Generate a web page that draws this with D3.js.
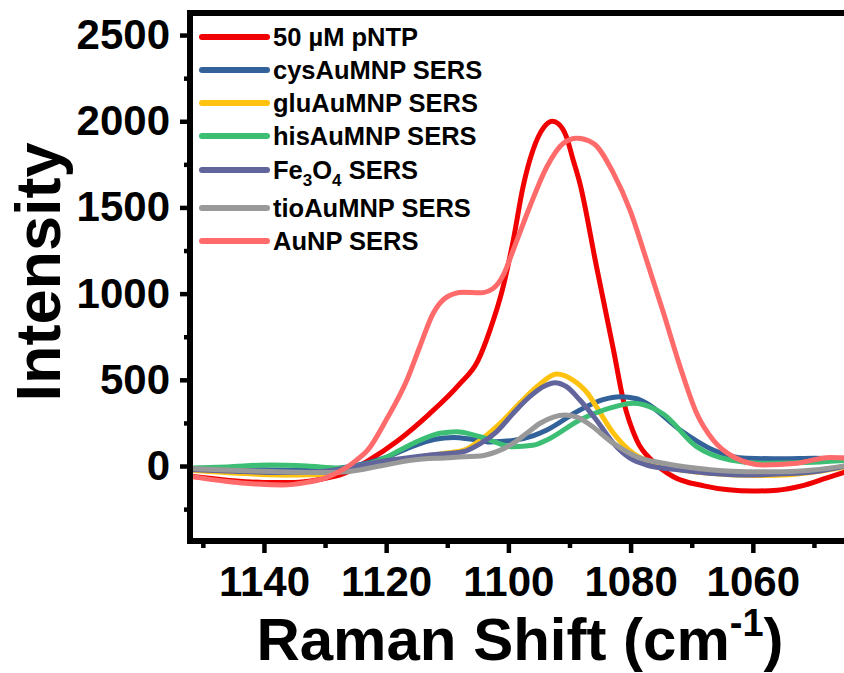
<!DOCTYPE html>
<html>
<head>
<meta charset="utf-8">
<script src="https://cdn.jsdelivr.net/npm/d3@7"></script>
<style>
  body { margin: 0; background: #fff; }
  svg { display: block; }
  text { font-family: "Liberation Sans", Arial, sans-serif; font-weight: bold; fill: #000; }
</style>
</head>
<body>
<svg id="chart" width="844" height="673"></svg>
<script>
// Raman spectra, pNTP on different substrates
// each series is a list of [shift (cm-1), intensity]

var seriesNames = ["50 \u00b5M pNTP", "cysAuMNP SERS", "gluAuMNP SERS", "hisAuMNP SERS", "Fe3O4 SERS", "tioAuMNP SERS", "AuNP SERS"];
var seriesColors = ["#f00000", "#33619a", "#ffc20e", "#3cbf75", "#62649c", "#999999", "#ff6b6b"];

var pNTP = [[1152,-60],[1146,-82],[1140,-95],[1135,-95],[1131,-78],[1127,-45],[1123,30],[1118,150],[1113,300],[1108,475],
  [1105,610],[1103,790],[1101,1020],[1099.2,1310],[1097.6,1620],[1096,1830],[1094.3,1960],[1092.8,2000],[1091.8,1985],
  [1090.5,1910],[1089.4,1775],[1088.3,1640],[1085.6,1160],[1082.8,673],[1081.2,383],[1079,150],[1076.3,25],[1073,-62],
  [1068,-115],[1064,-138],[1060,-145],[1056,-140],[1052,-115],[1048,-70],[1044,-25]];

var cysAuMNP = [[1152,-15],[1145,-20],[1140,-22],[1133,-25],[1128,-15],[1124,10],[1120,50],[1116,110],[1112,155],
  [1109,165],[1106,155],[1103,140],[1099,150],[1096,175],[1093.7,209],[1088.3,325],[1084.5,385],[1081.7,402],[1079,390],
  [1077.4,364],[1071.9,209],[1066.5,93],[1061,45],[1055,42],[1050,45],[1044,40]];

var gluAuMNP = [[1152,-25],[1145,-40],[1137.4,-52],[1132,-50],[1127,-30],[1121,20],[1115,50],[1110,75],[1107,95],
  [1104.6,150],[1101,260],[1098,370],[1095,470],[1092.1,534],[1089.5,500],[1087,420],[1085.6,344],[1082.8,190],
  [1079.6,74],[1076,15],[1072,-20],[1066,-45],[1060,-55],[1054,-50],[1049,-30],[1044,0]];

var hisAuMNP = [[1152,-12],[1146,-5],[1139,6],[1133,0],[1127.6,-12],[1124,5],[1121,35],[1115.6,131],[1111.2,190],
  [1108.5,199],[1104.6,170],[1099.2,112],[1096,120],[1093.7,151],[1088.3,267],[1083,340],[1079.6,364],[1076,330],
  [1074.6,300],[1069.2,112],[1063.7,35],[1058.3,16],[1050,22],[1044,35]];

var fe3o4 = [[1152,-20],[1145,-30],[1137.4,-37],[1132,-35],[1127,-15],[1121,25],[1112.8,64],[1107.4,83],[1104.6,130],
  [1101.9,200],[1099.2,306],[1096.5,402],[1094,465],[1092.4,483],[1090.5,460],[1088.3,383],[1085.6,267],[1082.8,131],
  [1080.1,45],[1077.4,6],[1071.9,-23],[1066,-45],[1061,-52],[1055,-45],[1050,-33],[1044,6]];

var tioAuMNP = [[1152,-14],[1145,-25],[1137.4,-33],[1131,-38],[1126.5,-33],[1121,0],[1115.6,35],[1110,48],[1107.4,54],
  [1104.6,58],[1101.9,83],[1099.5,125],[1097,190],[1094.8,248],[1090.7,296],[1088.5,280],[1086.6,238],[1082.8,131],
  [1079,54],[1074.6,16],[1066.5,-23],[1061,-33],[1055,-33],[1050.1,-23],[1044,6]];

var auNP = [[1152,-60],[1146,-90],[1141,-105],[1137,-110],[1133,-95],[1130,-70],[1127,-20],[1125,30],[1123,93],
  [1120,267],[1116.6,499],[1114.5,692],[1112.3,886],[1110,982],[1107.4,1008],[1104.6,1005],[1102.5,1030],[1100.8,1110],
  [1099.2,1253],[1096.5,1504],[1093.7,1736],[1091,1872],[1088.8,1901],[1086.1,1872],[1082.8,1698],[1080.1,1485],
  [1077.4,1195],[1074.6,886],[1071.9,576],[1069.2,306],[1066.5,151],[1063.2,54],[1058.3,6],[1052.8,16],[1047.4,50],[1044,45]];

var allSeries = [pNTP, cysAuMNP, gluAuMNP, hisAuMNP, fe3o4, tioAuMNP, auNP];

var xMajor = [1140, 1120, 1100, 1080, 1060];
var xMinor = [1150, 1130, 1110, 1090, 1070, 1050];
var yMajor = [0, 500, 1000, 1500, 2000, 2500];
var yMinor = [-250, 250, 750, 1250, 1750, 2250];

var svg = d3.select("#chart");

// plot box (right edge runs past the picture, as in the original crop)
var plotLeft = 190, plotRight = 850, plotTop = 13, plotBottom = 541;

var x = d3.scaleLinear().domain([1152.1, 1044.1]).range([plotLeft, plotRight]);
var y = d3.scaleLinear().domain([-435, 2628]).range([plotBottom, plotTop]);

svg.append("defs").append("clipPath").attr("id", "plotClip")
  .append("rect").attr("x", plotLeft).attr("y", plotTop)
  .attr("width", plotRight - plotLeft).attr("height", plotBottom - plotTop);

// curves, drawn in legend order so the later ones sit on top
var line = d3.line()
  .x(function(d) { return x(d[0]); })
  .y(function(d) { return y(d[1]); })
  .curve(d3.curveMonotoneX);

var curves = svg.append("g").attr("clip-path", "url(#plotClip)");
allSeries.forEach(function(s, i) {
  curves.append("path")
    .datum(s.slice().reverse())
    .attr("d", line)
    .attr("fill", "none")
    .attr("stroke", seriesColors[i])
    .attr("stroke-width", 5)
    .attr("stroke-linejoin", "round");
});

// axes
function styleAxis(g) {
  g.select(".domain").remove();
  g.selectAll(".tick line").attr("stroke", "#000").attr("stroke-width", 4.5);
  g.selectAll(".tick text").attr("font-size", 42).attr("font-family", null).attr("fill", "#000");
}

svg.append("g").attr("transform", "translate(0," + plotBottom + ")")
  .call(d3.axisBottom(x).tickValues(xMajor).tickSize(12).tickPadding(13).tickFormat(d3.format("d")))
  .call(styleAxis);
svg.append("g").attr("transform", "translate(0," + plotBottom + ")")
  .call(d3.axisBottom(x).tickValues(xMinor).tickSize(7).tickFormat(""))
  .call(styleAxis);
svg.append("g").attr("transform", "translate(" + plotLeft + ",0)")
  .call(d3.axisLeft(y).tickValues(yMajor).tickSize(10).tickPadding(10).tickFormat(d3.format("d")))
  .call(styleAxis);
svg.append("g").attr("transform", "translate(" + plotLeft + ",0)")
  .call(d3.axisLeft(y).tickValues(yMinor).tickSize(6).tickFormat(""))
  .call(styleAxis);

svg.append("rect")
  .attr("x", plotLeft).attr("y", plotTop)
  .attr("width", plotRight - plotLeft).attr("height", plotBottom - plotTop)
  .attr("fill", "none").attr("stroke", "#000").attr("stroke-width", 6);

// axis titles
var xTitle = svg.append("text")
  .attr("x", 520).attr("y", 660)
  .attr("text-anchor", "middle").attr("font-size", 60);
xTitle.append("tspan").text("Raman Shift (cm");
xTitle.append("tspan").attr("font-size", 38).attr("dy", -24).text("-1");
xTitle.append("tspan").attr("dy", 24).text(")");

svg.append("text")
  .attr("transform", "translate(60,272) rotate(-90)")
  .attr("text-anchor", "middle").attr("font-size", 63)
  .text("Intensity");

// legend
var legendY = [37, 70, 103, 136, 170, 208, 241];
var legend = svg.append("g");
seriesNames.forEach(function(name, i) {
  legend.append("line")
    .attr("x1", 202).attr("x2", 267)
    .attr("y1", legendY[i]).attr("y2", legendY[i])
    .attr("stroke", seriesColors[i]).attr("stroke-width", 6).attr("stroke-linecap", "round");
  var t = legend.append("text")
    .attr("x", 273).attr("y", legendY[i]).attr("dy", "0.36em")
    .attr("font-size", 25.5);
  if (name === "Fe3O4 SERS") {
    t.append("tspan").text("Fe");
    t.append("tspan").attr("font-size", 17).attr("dy", 7).text("3");
    t.append("tspan").attr("dy", -7).text("O");
    t.append("tspan").attr("font-size", 17).attr("dy", 7).text("4");
    t.append("tspan").attr("dy", -7).text(" SERS");
  } else {
    t.text(name);
  }
});
</script>
</body>
</html>
